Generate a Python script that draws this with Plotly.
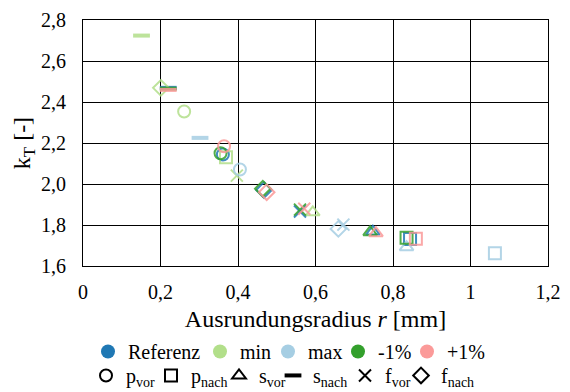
import plotly.graph_objects as go

# Parameter order: p_vor, p_nach, s_vor, s_nach, f_vor, f_nach
params = ["p<sub>vor</sub>", "p<sub>nach</sub>", "s<sub>vor</sub>",
          "s<sub>nach</sub>", "f<sub>vor</sub>", "f<sub>nach</sub>"]
symbols = ["circle-open", "square-open", "triangle-up-open",
           "line-ew-open", "x-thin-open", "diamond-open"]

variants = ["Referenz", "min", "max", "-1%", "+1%"]
colors = ["#1f78b4", "#b2df8a", "#a6cee3", "#33a02c", "#fb9a99"]

r_ref = [0.361, 0.844, 0.748, 0.220, 0.560, 0.467]
k_ref = [2.144, 1.732, 1.768, 2.469, 1.866, 1.971]
r_min = [0.261, 0.369, 0.593, 0.151, 0.397, 0.201]
k_min = [2.354, 2.131, 1.862, 2.724, 2.041, 2.469]
r_max = [0.405, 1.063, 0.835, 0.302, 0.672, 0.659]
k_max = [2.071, 1.662, 1.692, 2.225, 1.802, 1.781]
r_m1 = [0.355, 0.835, 0.741, 0.220, 0.560, 0.464]
k_m1 = [2.150, 1.738, 1.765, 2.465, 1.875, 1.977]
r_p1 = [0.364, 0.859, 0.756, 0.220, 0.571, 0.474]
k_p1 = [2.184, 1.733, 1.760, 2.459, 1.879, 1.960]

x_tickvals = [0, 0.2, 0.4, 0.6, 0.8, 1.0, 1.2]
x_ticktext = ["0", "0,2", "0,4", "0,6", "0,8", "1", "1,2"]

xs = [r_ref, r_min, r_max, r_m1, r_p1]
ys = [k_ref, k_min, k_max, k_m1, k_p1]

W, H = 570, 392
fig = go.Figure()
for name, col, xv, yv in zip(variants, colors, xs, ys):
    for j, sym in enumerate(symbols):
        lw = 4 if sym.startswith("line") else 2
        fig.add_trace(go.Scatter(
            x=[xv[j]], y=[yv[j]], mode="markers", showlegend=False,
            opacity=0.85,
            marker=dict(symbol=sym, size=12, color=col,
                        line=dict(color=col, width=lw))))

legend_layouts = {}
# one legend per entry for exact placement
row1_px = [105, 217, 285, 355, 424]
row2_px = [103, 168, 236, 290, 362, 418]
n = 0


def legend_box(px, ytop):
    return dict(orientation="h", xref="container", yref="container",
                x=(px - 17) / W, y=ytop, xanchor="left", yanchor="top",
                font=dict(size=20, family="Liberation Serif"), itemwidth=30,
                bgcolor="rgba(0,0,0,0)")


for name, col, px in zip(variants, colors, row1_px):
    n += 1
    lid = "legend" if n == 1 else f"legend{n}"
    fig.add_trace(go.Scatter(
        x=[None], y=[None], mode="markers", name=name, legend=lid,
        marker=dict(symbol="circle", size=14, color=col)))
    legend_layouts[lid] = legend_box(px, 0.153)

for p, sym, px in zip(params, symbols, row2_px):
    n += 1
    lid = f"legend{n}"
    lw = 4 if sym.startswith("line") else 2
    fig.add_trace(go.Scatter(
        x=[None], y=[None], mode="markers", name=p, legend=lid,
        marker=dict(symbol=sym, size=12, color="black",
                    line=dict(color="black", width=lw))))
    legend_layouts[lid] = legend_box(px, 0.092)

axis_common = dict(showline=True, linecolor="black", linewidth=1, mirror=True,
                   showgrid=True, gridcolor="black", gridwidth=1,
                   zeroline=False, ticks="", tickfont=dict(size=20),
                   automargin=False)

fig.update_layout(
    width=W, height=H,
    margin=dict(l=83, r=22, t=20, b=126),
    paper_bgcolor="white", plot_bgcolor="white",
    font=dict(family="Liberation Serif", color="black", size=20),
    separators=",.",
    xaxis=dict(range=[0, 1.2], tickvals=x_tickvals, ticktext=x_ticktext,
               ticklabelstandoff=8,
               title=dict(text="Ausrundungsradius <i>r</i> [mm]", standoff=12),
               **axis_common),
    yaxis=dict(range=[1.6, 2.8], dtick=0.2, tickformat=".1f",
               ticklabelstandoff=12,
               title=dict(text="k<sub>T</sub> [-]", standoff=3),
               **axis_common),
    **legend_layouts,
)

fig.write_html("out.html", config={"displayModeBar": False},
               post_script="document.body.style.margin='0px';")
